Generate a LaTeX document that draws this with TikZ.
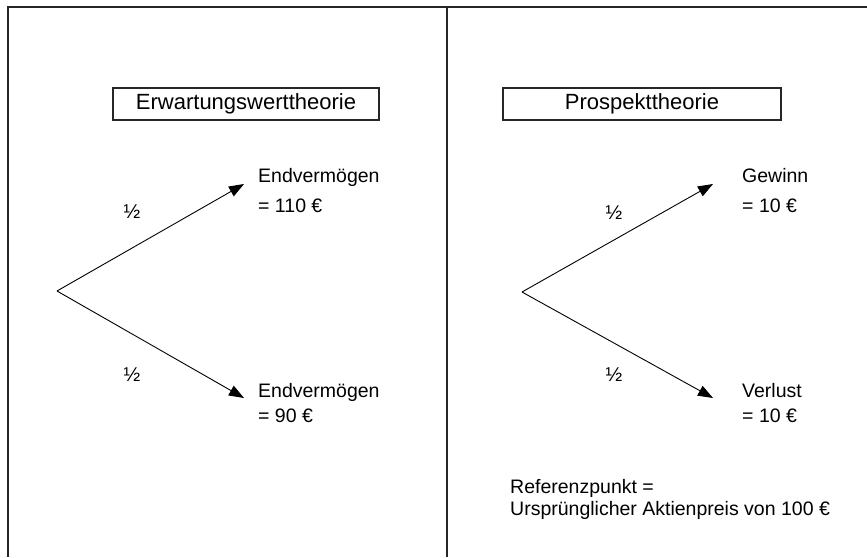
\documentclass[tikz,border=0pt]{standalone}
\usepackage{fontspec}
\setmainfont{Liberation Sans}
\usetikzlibrary{arrows.meta}
\begin{document}
\begin{tikzpicture}[x=1pt,y=-1pt,
  frame/.style={line width=1.6pt, draw=black!85},
  titlebox/.style={draw=black!85, line width=1.4pt, minimum height=32pt, inner sep=0pt, font=\fontsize{22}{26}\selectfont},
  branch/.style={line width=0.9pt, -{Triangle[length=15pt,width=11pt]}},
  lbl/.style={anchor=base west, inner sep=0pt, font=\fontsize{19.5}{23}\selectfont},
  half/.style={inner sep=0pt, font=\fontsize{20}{24}\selectfont},
  note/.style={anchor=base west, inner sep=0pt, font=\fontsize{19.5}{23}\selectfont}]
\useasboundingbox (0,0) rectangle (867,557);
% frame
\coordinate (ftl) at (8,7);
\coordinate (ftr) at (867,7);
\coordinate (fbl) at (8,557);
\coordinate (dt) at (447,7);
\coordinate (db) at (447,557);
\draw[frame] (fbl) -- (ftl) -- (ftr);
\draw[frame] (dt) -- (db);
% titles
\node[titlebox, minimum width=266pt] (t1) at (246,104) {Erwartungswerttheorie};
\node[titlebox, minimum width=278pt] (t2) at (642,104) {Prospekttheorie};
% left tree
\coordinate (a1) at (57,291);
\coordinate (u1) at (244,184);
\coordinate (d1) at (244,398);
\draw[branch] (a1) -- (u1);
\draw[branch] (a1) -- (d1);
\node[half] (h1) at (132,212) {½};
\node[half] (h2) at (132,375) {½};
\node[lbl] (e1a) at (258,182) {Endvermögen};
\node[lbl] (e1b) at (258,212) {= 110 €};
\node[lbl] (e2a) at (258,397) {Endvermögen};
\node[lbl] (e2b) at (258,422) {= 90 €};
% right tree
\coordinate (a2) at (522,292);
\coordinate (u2) at (713,184);
\coordinate (d2) at (713,398);
\draw[branch] (a2) -- (u2);
\draw[branch] (a2) -- (d2);
\node[half] (h3) at (614,213) {½};
\node[half] (h4) at (614,375) {½};
\node[lbl] (g1) at (742,182) {Gewinn};
\node[lbl] (g2) at (742,212) {= 10 €};
\node[lbl] (v1) at (742,397) {Verlust};
\node[lbl] (v2) at (742,422) {= 10 €};
% note
\node[note] (r1) at (510,493) {Referenzpunkt =};
\node[note] (r2) at (510,515) {Ursprünglicher Aktienpreis von 100 €};
\end{tikzpicture}
\end{document}
